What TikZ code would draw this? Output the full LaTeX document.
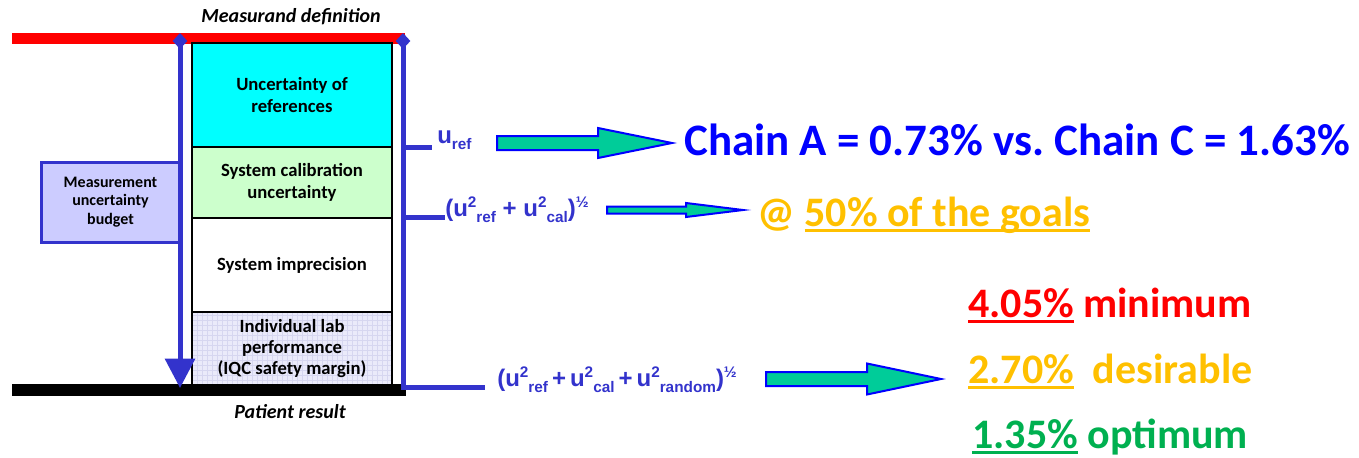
\documentclass[tikz,border=0pt]{standalone}
\usepackage{fontspec}
\setmainfont{Carlito}
\newfontfamily\arialf{Liberation Sans}
\usetikzlibrary{arrows.meta}
\definecolor{lineblue}{RGB}{51,51,204}
\definecolor{boxcyan}{RGB}{0,255,255}
\definecolor{boxgreen}{RGB}{204,255,204}
\definecolor{boxlav}{RGB}{204,204,255}
\definecolor{gridfill}{RGB}{234,234,250}
\definecolor{gridcol}{RGB}{214,214,240}
\definecolor{arrowfill}{RGB}{0,204,153}
\definecolor{pureblue}{RGB}{0,0,255}
\definecolor{gold}{RGB}{255,192,0}
\definecolor{okgreen}{RGB}{0,176,80}
\definecolor{pred}{RGB}{255,0,0}
\newcommand\myul[1]{\setbox0\hbox{#1}\rlap{\rule[-0.15em]{\wd0}{0.07em}}\box0\relax}
\newcommand\sps[1]{\raisebox{0.36em}{\fontsize{11.5}{12}\selectfont #1}}
\newcommand\sbs[1]{\raisebox{-0.28em}{\fontsize{11.5}{12}\selectfont #1}}
\tikzset{
  stackbox/.style={draw=black, line width=2pt, minimum width=150pt, inner sep=0pt,
    align=center, font=\fontsize{14}{16}\selectfont\bfseries},
  bluepath/.style={draw=lineblue, line width=3.75pt},
  formula/.style={anchor=base west, inner sep=0pt, text=lineblue, font=\arialf\fontsize{18}{20}\selectfont\bfseries},
  result/.style={anchor=base west, inner sep=0pt, font=\bfseries},
  fat/.style={draw=pureblue, line width=1.5pt, fill=arrowfill, line join=miter},
  caption/.style={font=\fontsize{15}{17}\selectfont\bfseries\itshape, inner sep=0pt}
}
\begin{document}
\begin{tikzpicture}[x=0.75pt,y=-0.75pt]
\useasboundingbox (0,0) rectangle (1359,457);
% bars
\coordinate (redL) at (12,38.5);
\coordinate (redR) at (405,38.5);
\coordinate (blkL) at (12,390);
\coordinate (blkR) at (406,390);
\draw[pred, line width=8.25pt] (redL) -- (redR);
\draw[black, line width=9pt] (blkL) -- (blkR);
% stack
\node[stackbox, fill=boxcyan, minimum height=78pt] (ref) at (292,95) {Uncertainty of\\references};
\node[stackbox, fill=boxgreen, minimum height=53.25pt] (cal) at (292,182.5) {System calibration\\uncertainty};
\node[stackbox, fill=white, minimum height=70.5pt] (imp) at (292,265) {System imprecision};
\node[stackbox, fill=gridfill, minimum height=54.75pt,
  path picture={\draw[gridcol, line width=0.25pt, step=3.75pt] (path picture bounding box.south west) grid (path picture bounding box.north east);}]
  (lab) at (292,348.5) {Individual lab\\performance\\(IQC safety margin)};
% captions
\node[caption] (mdef) at (291,17) {Measurand definition};
\node[caption] (pres) at (290,412) {Patient result};
% budget box
\node[draw=lineblue, line width=2.25pt, fill=boxlav, minimum width=104.25pt, minimum height=60pt,
  align=center, inner sep=0pt, font=\fontsize{12}{14}\selectfont\bfseries] (mub) at (110.5,202) {Measurement\\uncertainty\\budget};
% blue lines
\coordinate (lt) at (180,33);
\coordinate (lb) at (180,388);
\coordinate (rt) at (403,33);
\coordinate (rb) at (403,387);
\coordinate (re) at (485,387);
\draw[bluepath, {Diamond[length=12pt,width=11pt]}-{Triangle[length=22pt,width=22pt]}] (lt) -- (lb);
\draw[bluepath, {Diamond[length=12pt,width=11pt]}-] (rt) -- (rb) -- (re);
% formulas
\node[formula] (f1) at (437,143) {u\sbs{ref}};
\node[formula] (f2) at (445,216) {(u\sps{2}\sbs{ref} + u\sps{2}\sbs{cal})\sps{½}};
\node[formula] (f3) at (497,386) {(u\sps{2}\sbs{ref}\,+\,u\sps{2}\sbs{cal}\,+\,u\sps{2}\sbs{random})\sps{½}};
\coordinate (t1) at (403,147);
\coordinate (t2) at (403,217);
\draw[bluepath] (t1) -- (432,147);
\draw[bluepath] (t2) -- (445,217);
% fat arrows
\draw[fat] (497,136) -- (598,136) -- (598,128) -- (672,143) -- (598,158) -- (598,150) -- (497,150) -- cycle;
\draw[fat] (607,206.5) -- (686,206.5) -- (686,203) -- (743,210) -- (686,217) -- (686,213.5) -- (607,213.5) -- cycle;
\draw[fat] (766,372) -- (867,372) -- (867,363.5) -- (941,379) -- (867,394.5) -- (867,386) -- (766,386) -- cycle;
% results
\node[result, text=pureblue, font=\fontsize{33.75}{40}\selectfont\bfseries] (chain) at (684,155) {Chain A = 0.73\% vs.\ Chain C = 1.63\%};
\node[result, text=gold, font=\fontsize{31.5}{36}\selectfont\bfseries] (goals) at (757,226) {@ \myul{50\% of the goals}};
\node[result, text=pred, font=\fontsize{31.5}{36}\selectfont\bfseries] (gmin) at (968,317) {\myul{4.05\%} minimum};
\node[result, text=gold, font=\fontsize{31.5}{36}\selectfont\bfseries] (gdes) at (968,383) {\myul{2.70\%}\ \ desirable};
\node[result, text=okgreen, font=\fontsize{31.5}{36}\selectfont\bfseries] (gopt) at (972,448) {\myul{1.35\%} optimum};
\end{tikzpicture}
\end{document}
